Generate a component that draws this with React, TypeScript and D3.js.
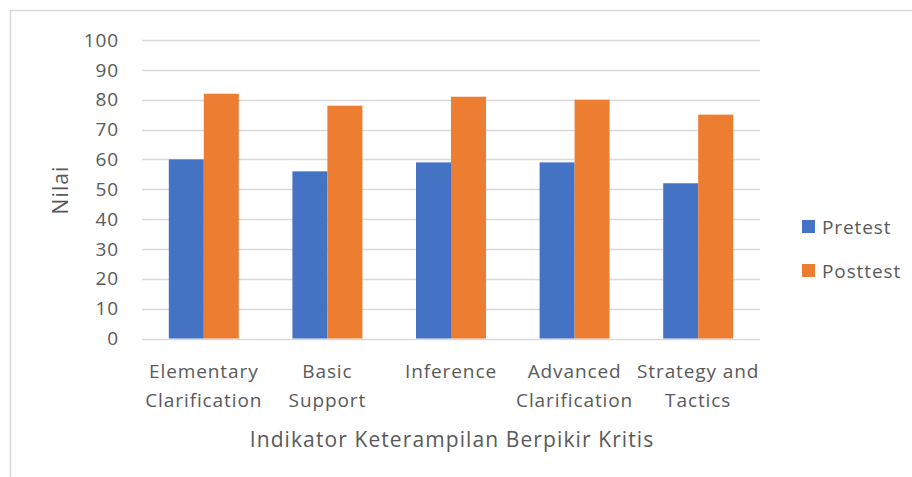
import React from 'react';
import * as d3 from 'd3';

const categories = [
  ['Elementary', 'Clarification'],
  ['Basic', 'Support'],
  ['Inference'],
  ['Advanced', 'Clarification'],
  ['Strategy and', 'Tactics'],
];
const series = ['Pretest', 'Posttest'];
const pretest = [60, 56, 59, 59, 52];
const posttest = [82, 78, 81, 80, 75];
const yTicks = [0, 10, 20, 30, 40, 50, 60, 70, 80, 90, 100];
const colors = ['#4472C4', '#ED7D31'];

const W = 912;
const H = 477;
const FONT = '"Open Sans", sans-serif';

export default function App() {
  const margin = { left: 142, right: 152, top: 40, bottom: 138 };
  const x = d3.scaleBand<number>()
    .domain(d3.range(categories.length))
    .range([margin.left, W - margin.right]);
  const inner = d3.scaleBand<number>()
    .domain([0, 1])
    .range([0, x.bandwidth()])
    .paddingInner(0)
    .paddingOuter(0.766);
  const y = d3.scaleLinear().domain([0, 100]).range([H - margin.bottom - 0.5, margin.top]);
  const values = [pretest, posttest];
  const lbl = { fontSize: 19, fill: '#595959', letterSpacing: 0.9 };

  return (
    <div style={{ position: 'absolute', left: 0, top: 0 }}>
      <svg width={W} height={H} style={{ display: 'block', fontFamily: FONT }}>
        <rect x={0} y={0} width={W} height={H} fill="#fff" />
        <rect x={10.5} y={10.5} width={W + 20} height={H + 20} fill="none" stroke="#d9d9d9" strokeWidth={1.5} />
        {yTicks.map((t) => (
          <g key={t}>
            <line x1={margin.left} x2={W - margin.right} y1={Math.round(y(t)) + 0.5} y2={Math.round(y(t)) + 0.5}
              stroke="#d9d9d9" strokeWidth={1.3} />
            <text x={margin.left - 23} y={y(t)} dy="0.35em" textAnchor="end" {...lbl}>{t}</text>
          </g>
        ))}
        {categories.map((c, i) =>
          values.map((vals, s) => (
            <rect key={`${i}-${s}`} x={(x(i) as number) + (inner(s) as number)} width={inner.bandwidth()}
              y={y(vals[i])} height={y(0) - y(vals[i])} fill={colors[s]} />
          ))
        )}
        {categories.map((c, i) => (
          <text key={i} x={(x(i) as number) + x.bandwidth() / 2} y={378} textAnchor="middle" {...lbl}>
            {c.map((line, k) => (
              <tspan key={k} x={(x(i) as number) + x.bandwidth() / 2} dy={k === 0 ? 0 : 29}>{line}</tspan>
            ))}
          </text>
        ))}
        <text x={452} y={447} textAnchor="middle" fontSize={21} fill="#595959" letterSpacing={1.1}>Indikator Keterampilan Berpikir Kritis</text>
        <text transform="translate(68,190) rotate(-90)" textAnchor="middle" fontSize={21} fill="#595959" letterSpacing={1.1}>Nilai</text>
        {series.map((s, k) => (
          <g key={s}>
            <rect x={802} y={220 + k * 44} width={13} height={13} fill={colors[k]} />
            <text x={822} y={227 + k * 44} dy="0.35em" {...lbl}>{s}</text>
          </g>
        ))}
      </svg>
    </div>
  );
}
